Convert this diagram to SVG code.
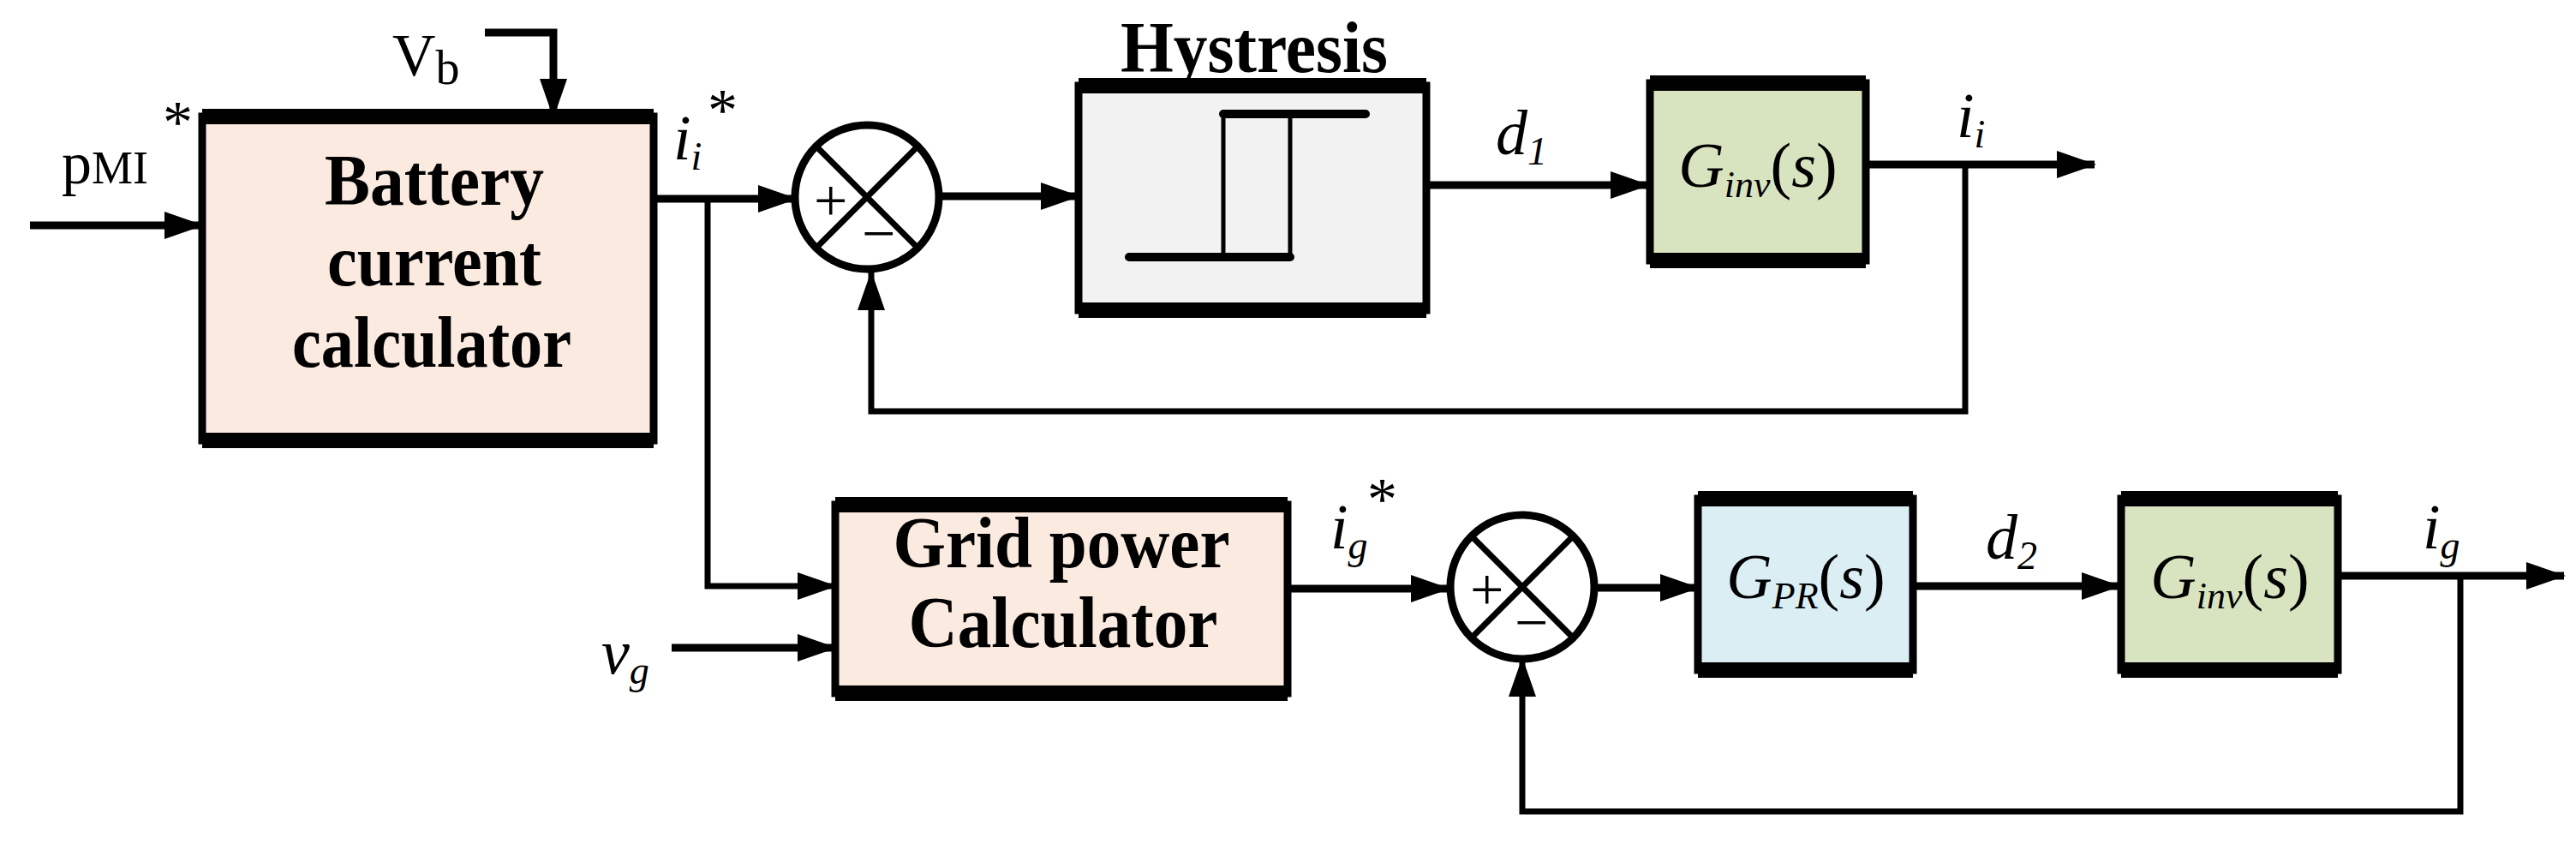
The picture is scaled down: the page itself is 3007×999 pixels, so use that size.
<svg xmlns="http://www.w3.org/2000/svg" width="3007" height="999" viewBox="0 0 3007 999">
<defs>
<marker id="ah" markerUnits="userSpaceOnUse" markerWidth="46" markerHeight="32" refX="44" refY="16" orient="auto"><path d="M0,0 L46,16 L0,32 z" fill="#000"/></marker>
<style>
.box{stroke:#000;stroke-width:9}
.edge{stroke:#000;stroke-width:18}
.w{fill:none;stroke:#000;stroke-width:9}
.fb{fill:none;stroke:#000;stroke-width:7}
.b{font-family:"Liberation Serif",serif;font-weight:bold;font-size:84px;text-anchor:middle}
.m{font-family:"Liberation Serif",serif;font-style:italic;font-size:74px}
.r{font-family:"Liberation Serif",serif;font-size:70px}
</style>
</defs>
<g id="connectors">
<path class="w" d="M35,263 H236" marker-end="url(#ah)"/>
<path class="w" d="M566,38 H646 V136" marker-end="url(#ah)"/>
<path class="w" d="M763,232 H929" marker-end="url(#ah)"/>
<path class="fb" d="M826,232 V684 H975" marker-end="url(#ah)"/>
<path class="w" d="M1096,229 H1259" marker-end="url(#ah)"/>
<path class="w" d="M1665,216 H1924" marker-end="url(#ah)"/>
<path class="w" d="M2178,192 H2445" marker-end="url(#ah)"/>
<path class="fb" d="M2294,192 V480 H1017 V318" marker-end="url(#ah)"/>
<path class="w" d="M784,756 H975" marker-end="url(#ah)"/>
<path class="w" d="M1503,687 H1691" marker-end="url(#ah)"/>
<path class="w" d="M1862,686 H1982" marker-end="url(#ah)"/>
<path class="w" d="M2233,684 H2474" marker-end="url(#ah)"/>
<path class="w" d="M2729,672 H2993" marker-end="url(#ah)"/>
<path class="fb" d="M2872,672 V947 H1777 V769" marker-end="url(#ah)"/>
</g>
<g id="battery">
<rect class="box" x="236" y="136" width="527" height="378" fill="#fbeadf"/>
<text class="b" x="507" y="239" textLength="256" lengthAdjust="spacingAndGlyphs">Battery</text>
<text class="b" x="507" y="333" textLength="250" lengthAdjust="spacingAndGlyphs">current</text>
<text class="b" x="504" y="428" textLength="326" lengthAdjust="spacingAndGlyphs">calculator</text>
</g>
<g id="pmi"><text class="r" x="72" y="214" font-size="84">p<tspan font-size="54">MI</tspan></text><text class="r" x="190" y="166" font-size="56">*</text></g>
<g id="vb"><text class="r" x="458" y="88" font-size="82">V<tspan font-size="56" dy="10">b</tspan></text></g>
<g id="iistar"><text class="m" x="786" y="186">i<tspan font-size="46" dy="12">i</tspan></text><text class="r" x="826" y="152" font-size="56">*</text></g>
<g id="sum1">
<circle cx="1012" cy="230" r="84" fill="#fff" stroke="#000" stroke-width="9"/>
<path d="M953,171 L1071,289 M1071,171 L953,289" stroke="#000" stroke-width="7"/>
<text class="r" x="950" y="258" font-size="52">+</text>
<text class="r" x="1006" y="296" font-size="52">−</text>
</g>
<g id="hysteresis">
<rect class="box" x="1259" y="100" width="406" height="262" fill="#f2f2f2"/>
<path d="M1318,300 H1506 V133 M1428,300 V133 H1594" fill="none" stroke="#000" stroke-width="5"/>
<path d="M1318,300 H1506 M1428,133 H1594" stroke="#000" stroke-width="10" stroke-linecap="round"/>
<text class="b" x="1464" y="84" textLength="312" lengthAdjust="spacingAndGlyphs">Hystresis</text>
</g>
<g id="d1"><text class="m" x="1746" y="180">d<tspan font-size="46" dy="12">1</tspan></text></g>
<g id="ginv1">
<rect class="box" x="1926" y="97" width="252" height="207" fill="#d8e4bf"/>
<text class="m" x="2052" y="218" text-anchor="middle">G<tspan font-size="44" dy="12">inv</tspan><tspan font-style="normal" dy="-12">(</tspan>s<tspan font-style="normal">)</tspan></text>
</g>
<g id="ii"><text class="m" x="2284" y="160">i<tspan font-size="46" dy="12">i</tspan></text></g>
<g id="grid">
<rect class="box" x="975" y="589" width="528" height="220" fill="#fbeadf"/>
<text class="b" x="1239" y="662" textLength="393" lengthAdjust="spacingAndGlyphs">Grid power</text>
<text class="b" x="1241" y="755" textLength="361" lengthAdjust="spacingAndGlyphs">Calculator</text>
</g>
<g id="vg"><text class="m" x="702" y="786">v<tspan font-size="46" dy="12">g</tspan></text></g>
<g id="igstar"><text class="m" x="1553" y="640">i<tspan font-size="46" dy="12">g</tspan></text><text class="r" x="1596" y="606" font-size="56">*</text></g>
<g id="sum2">
<circle cx="1777" cy="685" r="84" fill="#fff" stroke="#000" stroke-width="9"/>
<path d="M1718,626 L1836,744 M1836,626 L1718,744" stroke="#000" stroke-width="7"/>
<text class="r" x="1716" y="712" font-size="52">+</text>
<text class="r" x="1768" y="750" font-size="52">−</text>
</g>
<g id="gpr">
<rect class="box" x="1982" y="582" width="251" height="200" fill="#dbeef4"/>
<text class="m" x="2108" y="698" text-anchor="middle">G<tspan font-size="44" dy="12">PR</tspan><tspan font-style="normal" dy="-12">(</tspan>s<tspan font-style="normal">)</tspan></text>
</g>
<g id="d2"><text class="m" x="2318" y="652">d<tspan font-size="46" dy="12">2</tspan></text></g>
<g id="ginv2">
<rect class="box" x="2476" y="582" width="253" height="200" fill="#d8e4bf"/>
<text class="m" x="2603" y="698" text-anchor="middle">G<tspan font-size="44" dy="12">inv</tspan><tspan font-style="normal" dy="-12">(</tspan>s<tspan font-style="normal">)</tspan></text>
</g>
<g id="ig"><text class="m" x="2828" y="640">i<tspan font-size="46" dy="12">g</tspan></text></g>
<g id="edges">
<path class="edge" d="M236,136 H763 M236,514 H763 M1259,100 H1665 M1259,362 H1665 M1926,97 H2178 M1926,304 H2178 M975,589 H1503 M975,809 H1503 M1982,582 H2233 M1982,782 H2233 M2476,582 H2729 M2476,782 H2729"/>
</g>
</svg>
